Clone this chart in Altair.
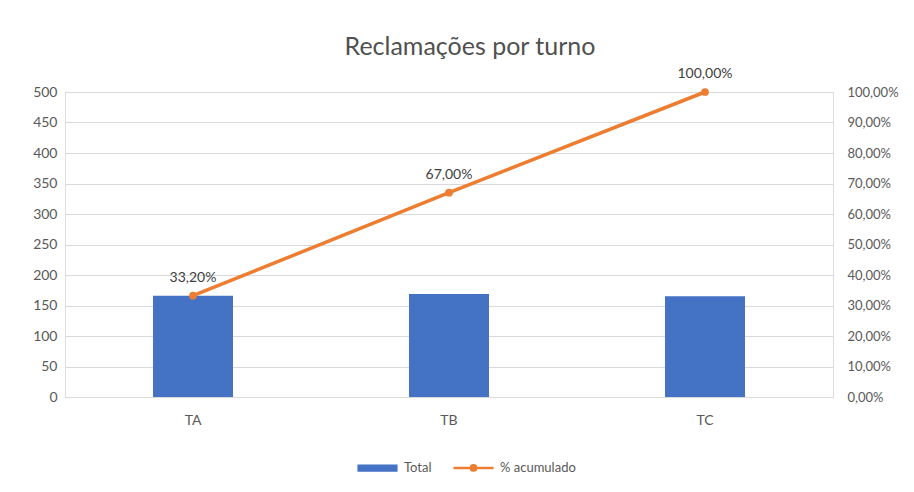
import altair as alt
import pandas as pd

turnos = ["TA", "TB", "TC"]
totais = [166, 169, 165]
acumulado = [0.332, 0.67, 1.0]
series = ["Total", "% acumulado"]

BLUE = "#4472C4"
ORANGE = "#ED7D31"
TXT = "#595959"
GRID = "#D9D9D9"
FONT = "Lato"

df = pd.DataFrame({"turno": turnos, "total": totais, "pct": acumulado})
leg_df = pd.DataFrame({"serie": series})

xenc = alt.X(
    "turno:N",
    sort=turnos,
    title=None,
    scale=alt.Scale(paddingInner=0.6875, paddingOuter=0.34375),
    axis=alt.Axis(labelAngle=0, labelFontSize=14, labelColor=TXT, labelFont=FONT,
                  labelPadding=16, ticks=False, domainColor=GRID, domainWidth=1),
)

rect_path = "M-0.94,-0.12H0.94V0.12H-0.94Z"
line_path = "M-1,0H1M0.13,0A0.13,0.13 0 1,1 -0.13,0A0.13,0.13 0 1,1 0.13,0"

bars = alt.Chart(df).mark_bar(color=BLUE).encode(
    x=xenc,
    y=alt.Y("total:Q", title=None,
            scale=alt.Scale(domain=[0, 500], nice=False),
            axis=alt.Axis(values=list(range(0, 501, 50)), labelFontSize=14, labelColor=TXT,
                          labelFont=FONT, labelPadding=8, ticks=False, domain=False,
                          gridColor=GRID, gridWidth=1)),
)

pct_y = alt.Y("pct:Q", title=None,
              scale=alt.Scale(domain=[0, 1], nice=False),
              axis=alt.Axis(orient="right", values=[i / 10 for i in range(11)],
                            labelExpr="replace(format(datum.value, '.2%'), '.', ',')",
                            labelFontSize=13, labelColor=TXT, labelFont=FONT,
                            labelPadding=14, ticks=False, domain=False, grid=False))

line = alt.Chart(df).mark_line(color=ORANGE, strokeWidth=3.5).encode(x=xenc, y=pct_y)
pts = alt.Chart(df).mark_point(color=ORANGE, filled=True, size=60, opacity=1).encode(x=xenc, y=pct_y)
labels = alt.Chart(df).transform_calculate(
    lab="replace(format(datum.pct, '.2%'), '.', ',')"
).mark_text(dy=-11, baseline="bottom", fontSize=14, color="#404040", font=FONT).encode(
    x=xenc, y=pct_y, text="lab:N")

leg = alt.Legend(title=None, orient="none", direction="horizontal",
                 legendX=291, legendY=354, symbolSize=1600,
                 labelFontSize=13, labelColor=TXT, labelFont=FONT,
                 labelOffset=5, columnPadding=16, symbolStrokeWidth=2.5,
                 symbolOpacity=1)
col_scale = alt.Scale(domain=series, range=[BLUE, ORANGE])
legend_layer = alt.Chart(leg_df).mark_point(strokeWidth=2.5, opacity=1).encode(
    x=alt.value(-500), y=alt.value(150),
    fill=alt.Fill("serie:N", scale=col_scale, legend=leg),
    stroke=alt.Stroke("serie:N", scale=col_scale, legend=leg),
    shape=alt.Shape("serie:N", scale=alt.Scale(domain=series, range=[rect_path, line_path]), legend=leg),
)

chart = alt.layer(bars, line + pts + labels + legend_layer).resolve_scale(y="independent").properties(
    width=768, height=305,
    autosize=alt.AutoSizeParams(type="none"),
    padding={"left": 57, "top": 84, "right": 73, "bottom": 87},
    title=alt.TitleParams("Reclamações por turno", fontSize=25, font=FONT, color="#505050",
                          fontWeight="normal", dx=21, offset=7),
).configure_view(stroke=None).configure(background="white")

chart.save("out.html", embed_options={"renderer": "svg", "actions": False})
